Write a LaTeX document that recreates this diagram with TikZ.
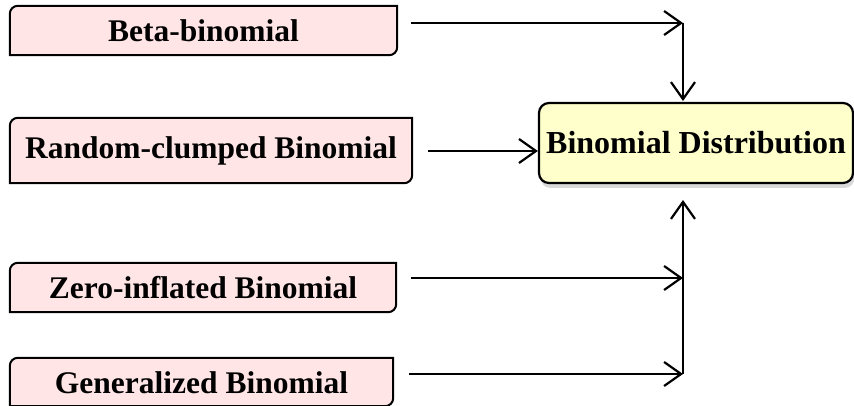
\documentclass[tikz,border=0pt]{standalone}
\usepackage{fontspec}
\setmainfont{Liberation Serif}
\usetikzlibrary{arrows.meta,shadows}
\definecolor{pinkfill}{RGB}{255,229,229}
\definecolor{yellowfill}{RGB}{255,255,204}
\tikzset{
  srcbox/.style={draw=none, fill=none, inner sep=0pt, font=\fontsize{31.5}{36}\selectfont\bfseries},
  mainbox/.style={draw=black, line width=2.2pt, fill=yellowfill, rounded corners=10pt,
    inner sep=0pt, minimum width=314pt, minimum height=80pt,
    font=\fontsize{32}{36}\selectfont\bfseries,
    drop shadow={opacity=0.3, shadow xshift=1.5pt, shadow yshift=-5pt}},
  arr/.style={line width=2.2pt, -{Straight Barb[length=17pt,width=24pt,line width=2.2pt]}},
}
\newcommand{\diagbox}[1]{%
  \filldraw[fill=pinkfill, draw=black, line width=2pt] (#1.west) [rounded corners=8pt] -- (#1.north west) [sharp corners] -- (#1.north east) [rounded corners=8pt] -- (#1.south east) [sharp corners] -- (#1.south west) -- cycle;
}
\begin{document}
\begin{tikzpicture}[x=1pt,y=-1pt]
\useasboundingbox (0,0) rectangle (854,406);
% source boxes (shape placeholders)
\node[srcbox, minimum width=387pt, minimum height=49pt] (b1) at (203.5,30.5) {};
\node[srcbox, minimum width=402pt, minimum height=65pt] (b2) at (211,150.5) {};
\node[srcbox, minimum width=386pt, minimum height=49pt] (b3) at (203,287.5) {};
\node[srcbox, minimum width=383pt, minimum height=48pt] (b4) at (201.5,382) {};
\diagbox{b1}
\diagbox{b2}
\diagbox{b3}
\diagbox{b4}
\node[srcbox] (t1) at (b1) {Beta-binomial};
\node[srcbox] (t2) at (b2) {Random-clumped Binomial};
\node[srcbox] (t3) at (b3) {Zero-inflated Binomial};
\node[srcbox] (t4) at ([yshift=-1pt]b4) {Generalized Binomial};
% main box
\node[mainbox] (c) at (696,143) {Binomial Distribution};
% connector points
\coordinate (s1) at (411,23);
\coordinate (s2) at (428,151);
\coordinate (s3) at (411,278);
\coordinate (s4) at (409,374);
\coordinate (j1) at (683,23);
\coordinate (j3) at (683,278);
\coordinate (j4) at (683,374);
\coordinate (jd) at (683,101);
\coordinate (jt) at (683,200);
% connectors
\draw[arr] (s1) -- (j1);
\draw[arr] (j1) -- (jd);
\draw[arr] (s2) -- (c.west |- s2);
\draw[arr] (s3) -- (j3);
\draw[arr] (s4) -- (j4);
\draw[arr] (j4) -- (jt);
\end{tikzpicture}
\end{document}
